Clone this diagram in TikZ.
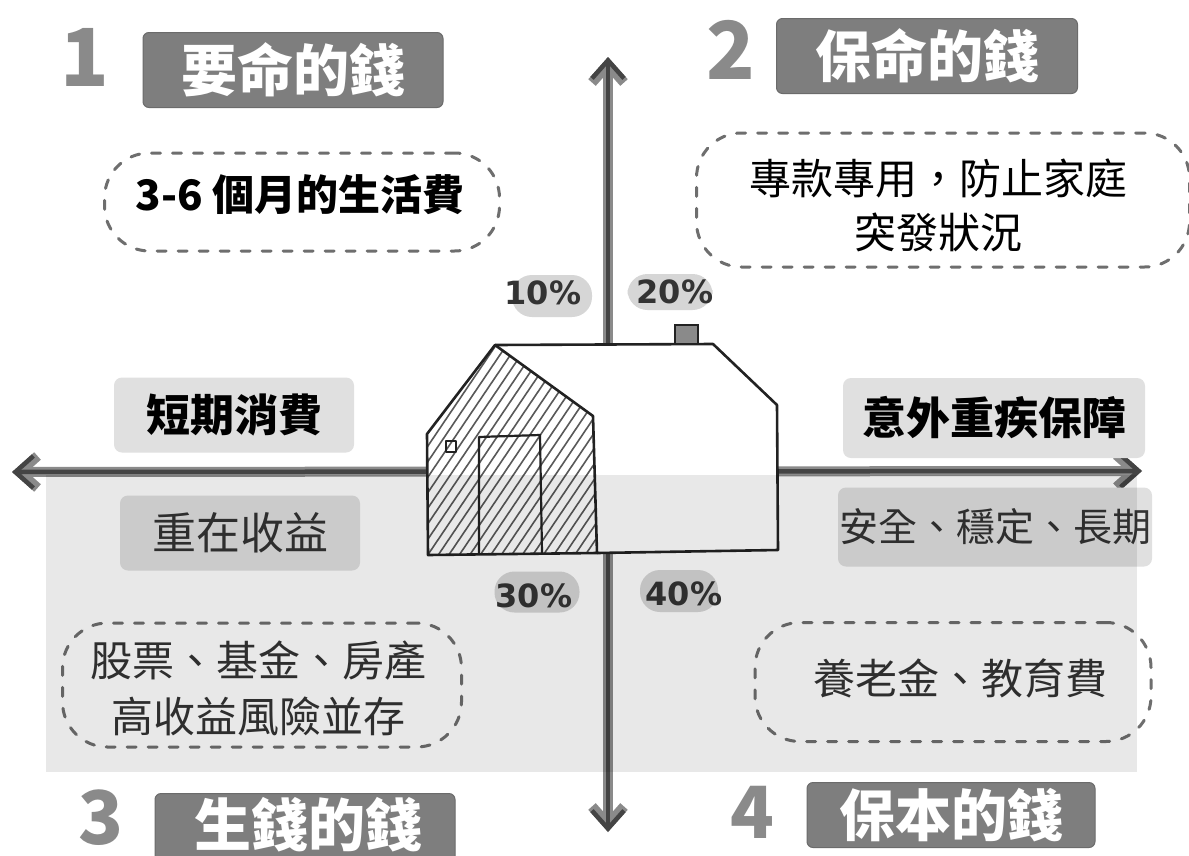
\documentclass[tikz,border=0pt]{standalone}
\usepackage{fontspec}
\usetikzlibrary{arrows.meta}
\newfontfamily\cjk{Noto Sans CJK TC}
\newfontfamily\handfont{DejaVu Sans}
\definecolor{titlegray}{HTML}{7E7E7E}
\definecolor{digitgray}{HTML}{8A8A8A}
\definecolor{tagfill}{HTML}{E0E0E0}
\definecolor{dashgray}{HTML}{6E6E6E}
\definecolor{blobfill}{HTML}{D6D6D6}
\definecolor{axisdark}{HTML}{444444}
\definecolor{axislight}{HTML}{8A8A8A}
\definecolor{inkdark}{HTML}{222222}
\definecolor{softink}{HTML}{333333}

\begin{document}
\begin{tikzpicture}[x=1pt,y=-1pt,
  titlebox/.style={fill=titlegray, draw=titlegray!85!black, line width=1pt,
    rounded corners=6pt, inner sep=0pt, text=white,
    font=\cjk\bfseries\fontsize{56}{60}\selectfont},
  digit/.style={inner sep=0pt, text=digitgray, font=\cjk\bfseries\fontsize{80}{84}\selectfont},
  tag/.style={fill=tagfill, rounded corners=8pt, inner sep=0pt,
    font=\cjk\fontsize{44}{48}\selectfont},
  dashbox/.style={draw=dashgray, line width=3pt, dash pattern=on 9pt off 12pt,
    line cap=round, rounded corners=45pt, inner sep=0pt, align=center,
    font=\cjk\fontsize{42}{54}\selectfont},
  blob/.style={fill=blobfill, rounded corners=20pt, inner sep=0pt},
  pct/.style={inner sep=0pt, text=softink, font=\handfont\bfseries\fontsize{32}{36}\selectfont},
  axisouter/.style={draw=axislight, line width=10pt, line cap=round,
    {Straight Barb[length=18pt,width=32pt]}-{Straight Barb[length=18pt,width=32pt]}},
  axisinner/.style={draw=axisdark, line width=4.5pt, line cap=round,
    {Straight Barb[length=18pt,width=32pt]}-{Straight Barb[length=18pt,width=32pt]}},
  houseline/.style={draw=inkdark, line width=2.6pt, line join=round},
  hatch/.style={draw=black!65, line width=1.6pt},
]
\useasboundingbox (0,0) rectangle (1189,855);
\clip (0,0) rectangle (1189,855);
\fill[white] (0,0) rectangle (1189,855);

% axis end points
\coordinate (vtop) at (608,57);
\coordinate (vbot) at (608,832);
\coordinate (hleft) at (12,472);
\coordinate (hright) at (1142,471);

% the two axes
\draw[axisouter] (vbot) -- (vtop);
\draw[axisinner] (vbot) -- (vtop);
\draw[axisouter] (hleft) -- (hright);
\draw[axisinner] (hleft) -- (hright);

% house corners
\coordinate (wallTL) at (427,434);
\coordinate (peak) at (495,345);
\coordinate (gable) at (593,416);
\coordinate (gableB) at (597,553);
\coordinate (wallBL) at (428,555);
\coordinate (roofR) at (713,344);
\coordinate (eaveR) at (777,405);
\coordinate (bodyBR) at (778,550);

% house body and hatched gable
\fill[white] (wallTL) -- (peak) -- (roofR) -- (eaveR) -- (bodyBR) -- (gableB) -- (wallBL) -- cycle;
\begin{scope}
  \clip (wallTL) -- (peak) -- (gable) -- (gableB) -- (wallBL) -- cycle;
  \foreach \i in {0,...,28}
    \draw[hatch] (318+\i*10.5,562) -- ++(150,-222);
\end{scope}
\draw[houseline] (peak) -- (roofR) -- (eaveR) -- (bodyBR) -- (gableB);
\draw[houseline] (wallTL) -- (peak) -- (gable) -- (gableB) -- (wallBL) -- cycle;
% door, window, chimney
\draw[houseline, line width=2.2pt] (479,553) -- (479,437) -- (540,435) -- (542,553);
\draw[houseline, line width=1.8pt] (446,441) rectangle (456,452);
\fill[axislight, draw=inkdark, line width=1.2pt] (675,325) rectangle (698,344);

% percentage tags
\node[blob, minimum width=80pt, minimum height=42pt] (b10) at (552,296) {};
\node[pct] (p10) at (543,293) {10\%};
\node[blob, minimum width=85pt, minimum height=36pt] (b20) at (670,292) {};
\node[pct] (p20) at (675,292) {20\%};
\node[blob, minimum width=85pt, minimum height=41pt] (b30) at (537,592) {};
\node[pct] (p30) at (534,596) {30\%};
\node[blob, minimum width=78pt, minimum height=42pt] (b40) at (679,591) {};
\node[pct] (p40) at (684,594) {40\%};

% labels along the horizontal axis
\node[tag, minimum width=240pt, minimum height=75pt, font=\cjk\bfseries\fontsize{44}{48}\selectfont] (shortterm) at (234,415) {短期消費};
\node[tag, minimum width=240pt, minimum height=75pt, text=softink] (returns) at (240,533) {重在收益};
\node[tag, minimum width=302pt, minimum height=80pt, font=\cjk\bfseries\fontsize{44}{48}\selectfont] (cover) at (994,418) {意外重疾保障};
\node[tag, minimum width=314pt, minimum height=79pt, text=softink, font=\cjk\fontsize{39}{42}\selectfont] (steady) at (995,527) {安全、穩定、長期};

% dashed notes
\node[dashbox, minimum width=395pt, minimum height=98pt] (living) at (302,202) {};
\node[inner sep=0pt, font=\cjk\bfseries\fontsize{42}{48}\selectfont] (livingtext) at (300,195) {3-6 個月的生活費};
\node[dashbox, minimum width=493pt, minimum height=134pt] (reserve) at (943,200) {};
\node[inner sep=0pt, align=center, font=\cjk\fontsize{42}{54}\selectfont] (reservetext) at (938,205) {專款專用，防止家庭\\突發狀況};
\node[dashbox, minimum width=399pt, minimum height=124pt] (invest) at (262,685) {};
\node[inner sep=0pt, align=center, text=softink, font=\cjk\fontsize{42}{56}\selectfont] (investtext) at (258,688) {股票、基金、房產\\高收益風險並存};
\node[dashbox, minimum width=396pt, minimum height=119pt] (pension) at (953,682) {};
\node[inner sep=0pt, text=softink, font=\cjk\fontsize{42}{48}\selectfont] (pensiontext) at (960,678) {養老金、教育費};

% shaded lower half
\fill[black, opacity=0.09] (46,475) rectangle (1137,772);

% quadrant titles
\node[digit] (n1) at (85,57) {1};
\node[titlebox, minimum width=300pt, minimum height=75pt] (t1) at (293,70) {要命的錢};
\node[digit] (n2) at (731,50) {2};
\node[titlebox, minimum width=301pt, minimum height=75pt] (t2) at (927,56) {保命的錢};
\node[digit, font=\cjk\bfseries\fontsize{74}{80}\selectfont] (n3) at (101,818) {3};
\node[titlebox, minimum width=300pt, minimum height=100pt, anchor=north] (t3) at (305,793) {};
\node[inner sep=0pt, text=white, font=\cjk\bfseries\fontsize{57}{60}\selectfont] (t3text) at (308,825) {生錢的錢};
\node[digit, font=\cjk\bfseries\fontsize{72}{80}\selectfont] (n4) at (752,812) {4};
\node[titlebox, minimum width=288pt, minimum height=65pt] (t4) at (951,815) {保本的錢};
\end{tikzpicture}
\end{document}
